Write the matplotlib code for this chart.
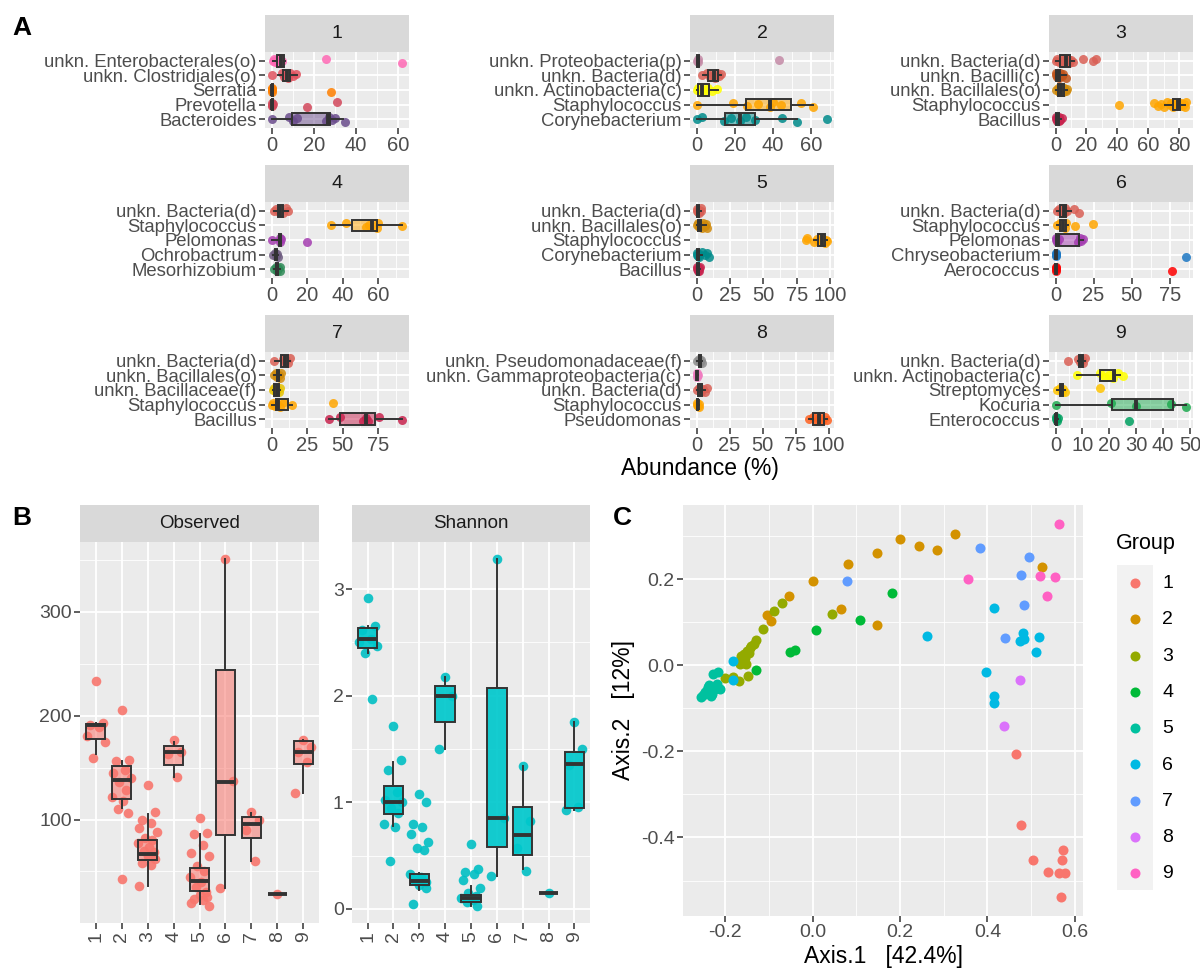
import numpy as np
import matplotlib
matplotlib.use('Agg')
import matplotlib.pyplot as plt
from matplotlib.colors import to_rgba
from matplotlib.patches import Rectangle
from matplotlib.ticker import MultipleLocator, FormatStrFormatter

plt.rcParams['font.family'] = ['Liberation Sans', 'DejaVu Sans']
plt.rcParams['axes.unicode_minus'] = False

# ---------------- data: panel A (relative abundance per taxon, per group) ----------------
taxon_colors = {
    'unkn. Enterobacterales(o)': '#FF69B4',
    'unkn. Clostridiales(o)': '#E0525E',
    'Serratia': '#FF7F00',
    'Prevotella': '#D2475A',
    'Bacteroides': '#6A4C8C',
    'unkn. Proteobacteria(p)': '#C48AA6',
    'unkn. Bacteria(d)': '#D95F55',
    'unkn. Actinobacteria(c)': '#FFFF00',
    'Staphylococcus': '#FFA500',
    'Corynebacterium': '#008B8B',
    'unkn. Bacilli(c)': '#C1541C',
    'unkn. Bacillales(o)': '#D08A0A',
    'Bacillus': '#C8234E',
    'Pelomonas': '#A43DB0',
    'Ochrobactrum': '#6E5C80',
    'Mesorhizobium': '#2E8B57',
    'Chryseobacterium': '#1C77C3',
    'Aerococcus': '#FF0000',
    'unkn. Bacillaceae(f)': '#E6C200',
    'unkn. Pseudomonadaceae(f)': '#8C8C8C',
    'unkn. Gammaproteobacteria(c)': '#F07CC0',
    'Pseudomonas': '#FF6020',
    'Streptomyces': '#FFC400',
    'Kocuria': '#1FAA50',
    'Enterococcus': '#00A060',
}

f1_taxa = ['unkn. Enterobacterales(o)', 'unkn. Clostridiales(o)', 'Serratia', 'Prevotella', 'Bacteroides']
f1_points = [[0.5, 1.0, 1.5, 2.0, 3.0, 4.0, 5.0, 25.8, 62.2],
             [0.2, 5.0, 6.0, 7.0, 8.0, 9.0, 10.0, 11.5],
             [0.0, 0.1, 0.2, 0.3, 28.2],
             [0.0, 0.1, 0.2, 0.5, 16.7, 30.9],
             [0.0, 8.5, 10.0, 12.0, 26.0, 27.5, 28.5, 30.0, 35.0]]
f1_boxes = [(0.5, 2.4, 4.5, 5.9, 6.5), (3.0, 5.5, 7.5, 8.7, 12.0), (0.0, 0.0, 0.2, 0.6, 0.8),
            (0.0, 0.0, 0.2, 0.5, 0.6), (0.0, 9.5, 27.0, 28.0, 34.0)]
f1_ticks = [0, 20, 40, 60]

f2_taxa = ['unkn. Proteobacteria(p)', 'unkn. Bacteria(d)', 'unkn. Actinobacteria(c)', 'Staphylococcus', 'Corynebacterium']
f2_points = [[0.0, 0.5, 1.0, 42.9],
             [3.0, 5.5, 7.0, 8.5, 9.5, 10.5, 11.5, 13.0],
             [0.0, 1.0, 2.0, 3.0, 4.5, 6.0, 8.0, 10.5],
             [0.0, 19.0, 26.5, 32.0, 38.5, 40.0, 44.0, 54.8, 60.8],
             [0.0, 3.0, 14.5, 18.0, 22.5, 26.0, 30.5, 44.7, 52.7, 68.5]]
f2_boxes = [(0.0, 0.2, 0.6, 1.2, 1.5), (3.5, 6.1, 9.3, 11.3, 13.0), (0.0, 0.5, 3.1, 6.3, 11.3),
            (0.0, 26.0, 38.6, 49.6, 60.8), (0.0, 14.8, 22.6, 30.4, 52.7)]
f2_ticks = [0, 20, 40, 60]

f3_taxa = ['unkn. Bacteria(d)', 'unkn. Bacilli(c)', 'unkn. Bacillales(o)', 'Staphylococcus', 'Bacillus']
f3_points = [[0.0, 1.0, 2.5, 4.0, 5.0, 6.0, 7.0, 8.0, 9.0, 10.0, 11.5, 18.0, 24.5, 26.3],
             [0.0, 0.5, 1.0, 1.5, 2.0, 3.0, 4.0, 5.0, 6.5],
             [0.5, 1.5, 2.5, 3.5, 4.5, 5.5, 6.5, 7.5],
             [41.3, 63.5, 66.0, 68.0, 70.0, 72.0, 74.0, 75.0, 76.0, 77.0, 78.0, 79.0, 80.0, 81.0, 82.0, 83.0, 84.0, 84.7],
             [0.0, 0.5, 1.0, 1.5, 2.0, 2.5, 3.0, 4.0]]
f3_boxes = [(0.0, 3.0, 6.7, 9.5, 12.0), (0.0, 0.5, 1.5, 3.0, 6.5), (0.5, 1.8, 3.5, 5.5, 7.5),
            (70.8, 75.7, 79.4, 80.4, 83.7), (0.0, 0.5, 1.0, 2.0, 3.5)]
f3_ticks = [0, 20, 40, 60, 80]

f4_taxa = ['unkn. Bacteria(d)', 'Staphylococcus', 'Pelomonas', 'Ochrobactrum', 'Mesorhizobium']
f4_points = [[1.5, 2.5, 4.0, 5.0, 6.5, 8.0, 9.5],
             [33.4, 41.7, 53.1, 55.0, 59.2, 60.1, 73.6],
             [0.0, 4.5, 5.0, 5.3, 19.7],
             [1.0, 2.0, 2.5, 3.0, 3.5],
             [1.5, 2.5, 3.0, 3.5, 4.5, 5.0]]
f4_boxes = [(1.5, 3.4, 4.5, 6.6, 9.5), (33.4, 45.0, 56.3, 59.2, 73.6), (0.0, 4.2, 4.8, 5.1, 5.3),
            (1.0, 2.0, 2.5, 3.0, 3.5), (1.5, 2.5, 3.2, 3.8, 5.0)]
f4_ticks = [0, 20, 40, 60]

f5_taxa = ['unkn. Bacteria(d)', 'unkn. Bacillales(o)', 'Staphylococcus', 'Corynebacterium', 'Bacillus']
f5_points = [[0.0, 0.5, 1.0, 1.5, 2.0, 3.0, 3.5],
             [0.0, 1.0, 2.0, 3.0, 4.0, 5.0, 6.0, 7.0, 8.0],
             [81.7, 83.0, 88.0, 90.0, 92.0, 93.0, 94.0, 95.0, 96.0, 97.0, 98.0],
             [0.0, 0.5, 1.0, 1.5, 2.0, 4.0, 6.0, 8.0, 9.0],
             [0.0, 0.5, 1.0, 1.5, 2.0, 2.5]]
f5_boxes = [(0.0, 0.5, 1.0, 2.0, 3.5), (0.0, 0.8, 2.0, 3.5, 7.0), (88.0, 91.0, 94.0, 96.0, 98.0),
            (0.0, 0.3, 0.8, 2.0, 4.0), (0.0, 0.3, 0.8, 1.5, 2.5)]
f5_ticks = [0, 25, 50, 75, 100]

f6_taxa = ['unkn. Bacteria(d)', 'Staphylococcus', 'Pelomonas', 'Chryseobacterium', 'Aerococcus']
f6_points = [[1.0, 2.5, 3.5, 4.5, 5.5, 6.5, 7.5, 12.0, 15.5],
             [1.0, 3.0, 4.0, 5.0, 6.0, 7.0, 12.6, 24.7],
             [0.0, 0.5, 1.0, 2.0, 15.0, 16.0, 17.0, 18.0],
             [0.0, 0.1, 0.2, 0.3, 86.0],
             [0.0, 0.1, 0.2, 0.5, 76.2]]
f6_boxes = [(1.0, 3.1, 5.3, 7.1, 10.0), (1.0, 2.6, 5.0, 7.0, 8.0), (0.0, 0.3, 1.5, 15.5, 18.0),
            (0.0, 0.0, 0.1, 0.3, 0.5), (0.0, 0.0, 0.1, 0.4, 0.5)]
f6_ticks = [0, 25, 50, 75]

f7_taxa = ['unkn. Bacteria(d)', 'unkn. Bacillales(o)', 'unkn. Bacillaceae(f)', 'Staphylococcus', 'Bacillus']
f7_points = [[1.6, 8.0, 9.3, 10.5, 11.6, 13.0],
             [2.0, 3.0, 4.0, 5.0, 6.0, 7.0],
             [1.0, 2.0, 3.0, 4.0, 5.0, 6.0],
             [0.0, 1.0, 2.5, 4.0, 6.0, 9.0, 14.6, 43.4],
             [40.6, 48.0, 64.5, 66.2, 68.0, 75.4, 92.1]]
f7_boxes = [(2.3, 7.0, 9.5, 11.6, 13.0), (2.0, 3.5, 4.5, 5.5, 7.0), (1.0, 2.0, 3.5, 5.0, 6.0),
            (0.0, 2.8, 4.2, 11.6, 14.6), (40.6, 48.3, 66.2, 73.1, 92.1)]
f7_ticks = [0, 25, 50, 75]

f8_taxa = ['unkn. Pseudomonadaceae(f)', 'unkn. Gammaproteobacteria(c)', 'unkn. Bacteria(d)', 'Staphylococcus', 'Pseudomonas']
f8_points = [[0.5, 1.5, 2.5, 3.5, 4.5],
             [0.0, 0.3, 0.6, 1.0],
             [0.5, 2.0, 3.5, 5.0, 6.5, 8.0],
             [0.0, 0.5, 1.0, 1.5, 2.0],
             [85.3, 88.0, 91.0, 93.0, 95.0, 97.0, 99.2]]
f8_boxes = [(0.5, 1.5, 2.5, 3.0, 4.0), (0.0, 0.2, 0.4, 0.7, 1.0), (0.5, 1.2, 3.0, 4.3, 6.5),
            (0.0, 0.3, 0.8, 1.2, 2.0), (85.3, 88.5, 92.9, 96.5, 99.2)]
f8_ticks = [0, 25, 50, 75, 100]

f9_taxa = ['unkn. Bacteria(d)', 'unkn. Actinobacteria(c)', 'Streptomyces', 'Kocuria', 'Enterococcus']
f9_points = [[4.6, 8.4, 9.2, 9.8, 10.3, 11.1],
             [8.0, 16.5, 18.4, 20.0, 21.5, 23.4, 25.0],
             [0.5, 1.5, 2.3, 2.8, 3.4, 16.5],
             [0.0, 20.5, 30.0, 43.0, 48.7],
             [0.0, 0.3, 0.6, 1.0, 27.4]]
f9_boxes = [(8.4, 8.6, 9.5, 10.2, 11.0), (8.0, 16.5, 21.7, 22.0, 24.0), (0.5, 1.5, 2.4, 2.9, 3.4),
            (0.0, 20.9, 30.0, 43.7, 48.7), (0.0, 0.1, 0.3, 0.7, 1.0)]
f9_ticks = [0, 10, 20, 30, 40, 50]

# ---------------- data: panel B (alpha diversity) ----------------
groups = ['1', '2', '3', '4', '5', '6', '7', '8', '9']
obs_points = [[233, 193, 191, 189, 180, 175, 159],
              [205.6, 157, 156, 148, 145, 140, 136, 128, 122, 118, 110, 106, 42.6],
              [132.8, 107, 100, 97, 92, 88, 82, 80, 77, 74, 70, 68.6, 65, 62, 58, 56, 35.6],
              [177, 165, 163, 140.9],
              [101, 87, 86, 75, 68, 65, 55, 50, 45, 40, 35, 30, 27, 25, 23, 22, 20, 17],
              [350.7, 137, 34],
              [107, 100, 90, 60],
              [28],
              [177, 170, 165, 155, 126]]
obs_boxes = [(163, 177.5, 191, 192.5, 193), (111, 120, 138, 151.4, 156), (35.6, 61, 66.8, 80, 105.7),
             (140.9, 152.6, 164.7, 170.5, 175), (18.7, 31.4, 40.4, 53, 86), (34, 85, 136, 244.5, 350.7),
             (60, 81.8, 95.5, 102.6, 106.6), (28, 28, 28, 28, 28), (125.8, 153.3, 164.7, 175.9, 177)]
shan_points = [[2.92, 2.65, 2.62, 2.53, 2.50, 2.47, 2.40, 1.97],
               [1.72, 1.40, 1.30, 1.10, 1.02, 1.00, 0.95, 0.90, 0.80, 0.77, 0.445],
               [1.08, 1.00, 0.80, 0.77, 0.70, 0.63, 0.57, 0.55, 0.33, 0.30, 0.27, 0.25, 0.22, 0.20, 0.047],
               [2.18, 2.00, 1.50],
               [0.61, 0.37, 0.35, 0.33, 0.27, 0.20, 0.15, 0.12, 0.10, 0.08, 0.06, 0.03],
               [3.28, 0.85, 0.31],
               [1.34, 0.82, 0.57, 0.36],
               [0.15],
               [1.75, 1.50, 1.35, 0.96, 0.93]]
shan_boxes = [(2.40, 2.45, 2.53, 2.64, 2.65), (0.78, 0.89, 1.00, 1.15, 1.38), (0.18, 0.22, 0.26, 0.33, 0.34),
              (1.50, 1.75, 2.00, 2.09, 2.18), (0.03, 0.06, 0.10, 0.13, 0.21), (0.31, 0.58, 0.85, 2.07, 3.28),
              (0.37, 0.51, 0.69, 0.96, 1.34), (0.15, 0.15, 0.15, 0.15, 0.15), (0.93, 0.95, 1.36, 1.47, 1.75)]

# ---------------- data: panel C (PCoA) ----------------
pc_x = {
    '1': [0.465, 0.477, 0.573, 0.504, 0.570, 0.539, 0.564, 0.577, 0.569],
    '2': [0.325, 0.284, 0.244, 0.200, 0.148, 0.082, 0.000, -0.054, 0.064, 0.148, -0.105, -0.095, 0.524],
    '3': [0.045, -0.071, -0.089, -0.113, -0.129, -0.135, -0.143, -0.150, -0.158, -0.165, -0.169, -0.161,
          -0.154, -0.146, -0.167, -0.152, -0.148, -0.168, -0.201, -0.183, -0.140, -0.157],
    '4': [0.181, 0.108, 0.008, -0.052, -0.040, -0.130],
    '5': [-0.216, -0.228, -0.211, -0.219, -0.238, -0.242, -0.250, -0.231, -0.235, -0.246, -0.223, -0.239, -0.255, -0.233],
    '6': [0.416, 0.262, 0.396, 0.414, 0.416, -0.183, -0.183, 0.481, 0.475, 0.483, 0.519, 0.511],
    '7': [0.383, 0.079, 0.494, 0.476, 0.484, 0.441],
    '8': [0.474, 0.437],
    '9': [0.356, 0.564, 0.520, 0.554, 0.536],
}
pc_y = {
    '1': [-0.207, -0.370, -0.429, -0.452, -0.453, -0.481, -0.483, -0.483, -0.539],
    '2': [0.304, 0.269, 0.277, 0.293, 0.262, 0.236, 0.195, 0.162, 0.131, 0.094, 0.116, 0.102, 0.229],
    '3': [0.119, 0.144, 0.126, 0.084, 0.058, 0.050, 0.041, 0.033, 0.026, 0.022, 0.010, 0.014,
          0.018, 0.029, 0.002, 0.002, -0.024, -0.037, -0.029, -0.027, 0.045, 0.006],
    '4': [0.168, 0.105, 0.081, 0.032, 0.035, -0.011],
    '5': [-0.016, -0.021, -0.054, -0.043, -0.045, -0.058, -0.069, -0.067, -0.058, -0.062, -0.056, -0.050, -0.073, -0.072],
    '6': [0.133, 0.067, -0.016, -0.071, -0.088, 0.009, -0.035, 0.074, 0.056, 0.060, 0.066, 0.030],
    '7': [0.272, 0.195, 0.252, 0.209, 0.141, 0.063],
    '8': [-0.034, -0.140],
    '9': [0.200, 0.329, 0.207, 0.205, 0.160],
}
group_colors = ['#F8766D', '#D39200', '#93AA00', '#00BA38', '#00C19F', '#00B9E3', '#619CFF', '#DB72FB', '#FF61C3']

# fixed jitter pattern (positions only)
JIT = [0.0, 0.22, -0.18, 0.1, -0.25, 0.28, -0.08, 0.15, -0.3, 0.05, -0.12, 0.2]

W, H = 1200, 974
fig = plt.figure(figsize=(12, 9.74), dpi=100)


def px_axes(x0, y0, x1, y1):
    return fig.add_axes([x0 / W, 1 - y1 / H, (x1 - x0) / W, (y1 - y0) / H])


def expand(vals, frac=0.05):
    lo, hi = min(vals), max(vals)
    r = hi - lo
    return lo - frac * r, hi + frac * r


def box_stats(rows):
    return [dict(whislo=a, q1=b, med=c, q3=d, whishi=e, fliers=[]) for a, b, c, d, e in rows]


def gg_style(ax, fs):
    ax.set_facecolor('#EBEBEB')
    for s in ax.spines.values():
        s.set_visible(False)
    ax.tick_params(colors='#333333', labelcolor='#4D4D4D', labelsize=fs, length=4, width=1.1, pad=2)
    ax.tick_params(which='minor', length=0)
    ax.grid(True, which='major', color='white', lw=1.3)
    ax.grid(True, which='minor', color='white', lw=0.6)
    ax.set_axisbelow(True)


def strip(x0, y0, x1, y1, text, fs):
    sa = px_axes(x0, y0, x1, y1)
    sa.set_facecolor('#D9D9D9')
    sa.set_xticks([])
    sa.set_yticks([])
    for s in sa.spines.values():
        s.set_visible(False)
    sa.text(0.5, 0.5, text, ha='center', va='center', fontsize=fs, color='#1A1A1A', transform=sa.transAxes)


def draw_boxes(ax, stats, pos, width, horizontal):
    return ax.bxp(box_stats(stats), positions=pos, widths=width,
                  orientation='horizontal' if horizontal else 'vertical',
                  patch_artist=True, showcaps=False, showfliers=False,
                  boxprops=dict(edgecolor='#333333', linewidth=1.4),
                  whiskerprops=dict(color='#333333', linewidth=1.4),
                  medianprops=dict(color='#333333', linewidth=2.8, solid_capstyle='butt'),
                  zorder=3)


def draw_facet(x0, y0, title, taxa, points, stats, ticks):
    strip(x0, y0, x0 + 144, y0 + 37, title, 14)
    ax = px_axes(x0, y0 + 37, x0 + 144, y0 + 113)
    gg_style(ax, 13.3)
    n = len(taxa)
    ypos = [n - i for i in range(n)]
    for yp, name, vals in zip(ypos, taxa, points):
        off = np.array([JIT[k % len(JIT)] for k in range(len(vals))]) * 0.6
        ax.scatter(vals, yp + off, s=42, color=taxon_colors[name], alpha=0.85, lw=0, zorder=2)
    bp = draw_boxes(ax, stats, ypos, 0.8, True)
    for patch, name in zip(bp['boxes'], taxa):
        patch.set_facecolor(to_rgba(taxon_colors[name], 0.5))
    allv = [v for vals in points for v in vals] + [v for row in stats for v in row]
    ax.set_xlim(*expand(allv))
    ax.set_ylim(0.4, n + 0.6)
    ax.set_yticks(ypos)
    ax.set_yticklabels(taxa)
    ax.tick_params(axis='y', pad=2)
    ax.set_xticks(ticks)
    ax.xaxis.set_minor_locator(MultipleLocator((ticks[1] - ticks[0]) / 2))
    ax.tick_params(axis='x', labelsize=14.5)
    return ax


# ---------------- panel A ----------------
col_x = [265, 690, 1049]
row_y = [15, 165, 315]
facets = [('1', f1_taxa, f1_points, f1_boxes, f1_ticks), ('2', f2_taxa, f2_points, f2_boxes, f2_ticks),
          ('3', f3_taxa, f3_points, f3_boxes, f3_ticks), ('4', f4_taxa, f4_points, f4_boxes, f4_ticks),
          ('5', f5_taxa, f5_points, f5_boxes, f5_ticks), ('6', f6_taxa, f6_points, f6_boxes, f6_ticks),
          ('7', f7_taxa, f7_points, f7_boxes, f7_ticks), ('8', f8_taxa, f8_points, f8_boxes, f8_ticks),
          ('9', f9_taxa, f9_points, f9_boxes, f9_ticks)]
for i, (title, taxa, pts, bx, tk) in enumerate(facets):
    draw_facet(col_x[i % 3], row_y[i // 3], title, taxa, pts, bx, tk)

fig.text(700 / W, 1 - 468 / H, 'Abundance (%)', ha='center', va='center', fontsize=16.5)

# ---------------- panel B ----------------
def draw_alpha(x0, x1, title, points, stats, color, fill, yticks, minor):
    strip(x0, 505, x1, 542, title, 13.5)
    ax = px_axes(x0, 542, x1, 923)
    gg_style(ax, 14)
    pos = np.arange(1, len(groups) + 1)
    for p, vals in zip(pos, points):
        off = np.array([JIT[k % len(JIT)] for k in range(len(vals))]) * 1.25
        ax.scatter(p + off, vals, s=48, color=color, alpha=0.9, lw=0, zorder=2)
    bp = draw_boxes(ax, stats, pos, 0.75, False)
    for patch in bp['boxes']:
        patch.set_facecolor(fill)
    allv = [v for vals in points for v in vals] + [v for row in stats for v in row]
    ax.set_ylim(*expand(allv))
    ax.set_xlim(0.4, len(groups) + 0.6)
    ax.set_xticks(pos)
    ax.set_xticklabels(groups, rotation=90, va='top', ha='center')
    ax.set_yticks(yticks)
    ax.yaxis.set_minor_locator(MultipleLocator(minor))
    return ax


draw_alpha(80, 319, 'Observed', obs_points, obs_boxes, '#F8766D', to_rgba('#F8766D', 0.55), [100, 200, 300], 50)
draw_alpha(352, 590, 'Shannon', shan_points, shan_boxes, '#00BFC4', to_rgba('#00C8CC', 0.92), [0, 1, 2, 3], 0.5)

# ---------------- panel C ----------------
axc = px_axes(683, 505, 1083, 916)
gg_style(axc, 14)
handles = []
for g, col in zip(groups, group_colors):
    h = axc.scatter(pc_x[g], pc_y[g], s=52, color=col, lw=0, zorder=2)
    handles.append(h)
all_x = [v for g in groups for v in pc_x[g]]
all_y = [v for g in groups for v in pc_y[g]]
axc.set_xlim(*expand(all_x))
axc.set_ylim(*expand(all_y))
axc.set_xticks([-0.2, 0.0, 0.2, 0.4, 0.6])
axc.set_yticks([-0.4, -0.2, 0.0, 0.2])
axc.xaxis.set_minor_locator(MultipleLocator(0.1))
axc.yaxis.set_minor_locator(MultipleLocator(0.1))
axc.xaxis.set_major_formatter(FormatStrFormatter('%.1f'))
axc.yaxis.set_major_formatter(FormatStrFormatter('%.1f'))
axc.set_xlabel('Axis.1   [42.4%]', fontsize=16.5, labelpad=3)
axc.set_ylabel('Axis.2   [12%]', fontsize=16.5, labelpad=4)

fig.patches.append(Rectangle((1117 / W, 1 - 890 / H), 36 / W, 325 / H, transform=fig.transFigure,
                             facecolor='#F2F2F2', edgecolor='none', zorder=0))
fig.text(1116 / W, 1 - 543 / H, 'Group', fontsize=15.5, ha='left', va='center')
leg = fig.legend(handles, groups, loc='upper left', bbox_to_anchor=(1098 / W, 1 - 557 / H),
                 frameon=False, fontsize=14, labelspacing=0.96,
                 handletextpad=0.4, scatterpoints=1)

# panel letters
fig.text(12 / W, 1 - 28 / H, 'A', fontsize=19, fontweight='bold', va='center')
fig.text(12 / W, 1 - 518 / H, 'B', fontsize=19, fontweight='bold', va='center')
fig.text(613 / W, 1 - 518 / H, 'C', fontsize=19, fontweight='bold', va='center')

fig.savefig('out.png', dpi=100)
